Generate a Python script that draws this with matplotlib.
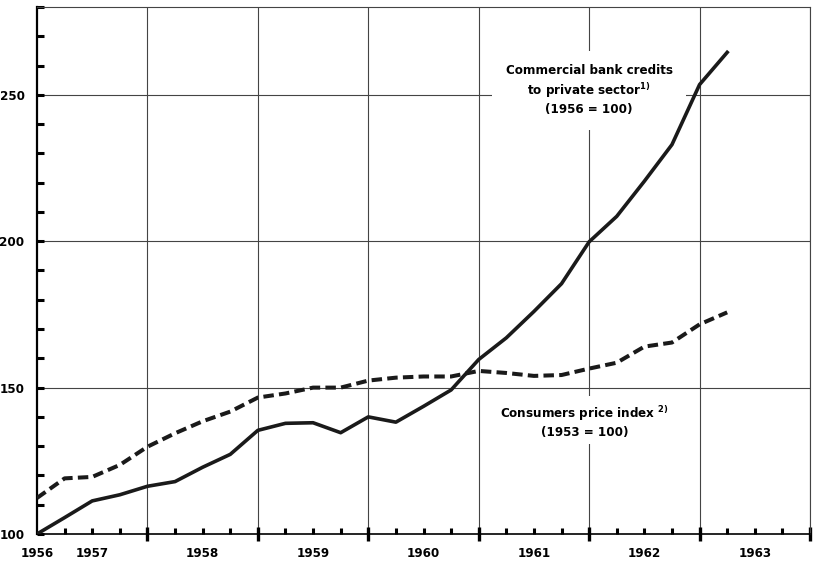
import matplotlib
matplotlib.use("Agg")
import matplotlib.pyplot as plt
import numpy as np

plt.rcParams['font.family'] = ['DejaVu Sans']
plt.rcParams['font.stretch'] = 'condensed'

# quarterly observations, x = years after end of 1956
quarters = np.arange(0, 6.26, 0.25)
bank_credits = [100.0, 105.6, 111.3, 113.4, 116.3, 117.9, 122.8, 127.2,
                135.4, 137.8, 138.0, 134.6, 140.0, 138.2, 143.6, 149.2,
                159.6, 167.0, 176.0, 185.5, 199.8, 208.5, 220.5, 233.0,
                253.5, 264.5]
consumer_prices = [112.3, 119.0, 119.5, 123.6, 129.8, 134.4, 138.5, 141.8,
                   146.6, 148.0, 150.0, 150.0, 152.4, 153.4, 153.8, 153.8,
                   155.7, 155.0, 154.0, 154.3, 156.5, 158.5, 164.0, 165.4,
                   171.6, 175.7]

year_labels = ['1956', '1957', '1958', '1959', '1960', '1961', '1962', '1963']
year_label_pos = [0, 0.5, 1.5, 2.5, 3.5, 4.5, 5.5, 6.5]
y_labels = {100: '100', 150: '150', 200: '200', 250: '250'}

fig = plt.figure(figsize=(8.13, 5.67), dpi=100)
ax = fig.add_axes([37 / 813, 1 - 534 / 567, 773 / 813, 527 / 567])

ax.set_xlim(0, 7)
ax.set_ylim(100, 280)

# grid
for x in range(1, 8):
    ax.axvline(x, color='#444444', lw=0.8, zorder=1)
for y in (150, 200, 250):
    ax.axhline(y, color='#444444', lw=0.8, zorder=1)

ax.plot(quarters, bank_credits, color='#1a1a1a', lw=2.6,
        solid_joinstyle='round', zorder=3)
ax.plot(quarters, consumer_prices, color='#1a1a1a', lw=2.9,
        dashes=(2.6, 1.3), dash_capstyle='butt', zorder=3)

# spines
for side in ('top', 'right'):
    ax.spines[side].set_color('#444444')
    ax.spines[side].set_linewidth(0.8)
ax.spines['left'].set_linewidth(1.6)
ax.spines['bottom'].set_linewidth(1.2)

# y ticks
yt = np.arange(100, 281, 10)
ax.set_yticks(yt)
ax.set_yticklabels([y_labels.get(int(v), '') for v in yt])
ax.tick_params(axis='y', direction='in', length=5, width=2.2, pad=9,
               labelsize=9.5)

# x ticks
ax.set_xticks(range(1, 8))
ax.set_xticklabels([])
ax.set_xticks(np.arange(0.25, 7, 0.25), minor=True)
ax.tick_params(axis='x', which='major', direction='inout', length=10,
               width=2.4)
ax.tick_params(axis='x', which='minor', direction='in', length=4, width=2.2)
for pos, lab in zip(year_label_pos, year_labels):
    ax.annotate(lab, xy=(pos, 0), xycoords=('data', 'axes fraction'),
                xytext=(0, -14), textcoords='offset points',
                ha='center', va='center', fontsize=9.5, fontweight='bold')
for lab in ax.get_yticklabels():
    lab.set_fontweight('bold')

ax.text(5.0, 251.5, 'Commercial bank credits\nto private sector$\\mathregular{^{1)}}$\n(1956 = 100)',
        ha='center', va='center', fontsize=9.5, fontweight='bold',
        linespacing=1.3,
        bbox=dict(facecolor='white', edgecolor='none', pad=10), zorder=2)
ax.text(4.96, 138.5, 'Consumers price index $\\mathregular{^{2)}}$\n(1953 = 100)',
        ha='center', va='center', fontsize=9.5, fontweight='bold',
        linespacing=1.3,
        bbox=dict(facecolor='white', edgecolor='none', pad=4), zorder=2)

fig.savefig('out.png', dpi=100)
